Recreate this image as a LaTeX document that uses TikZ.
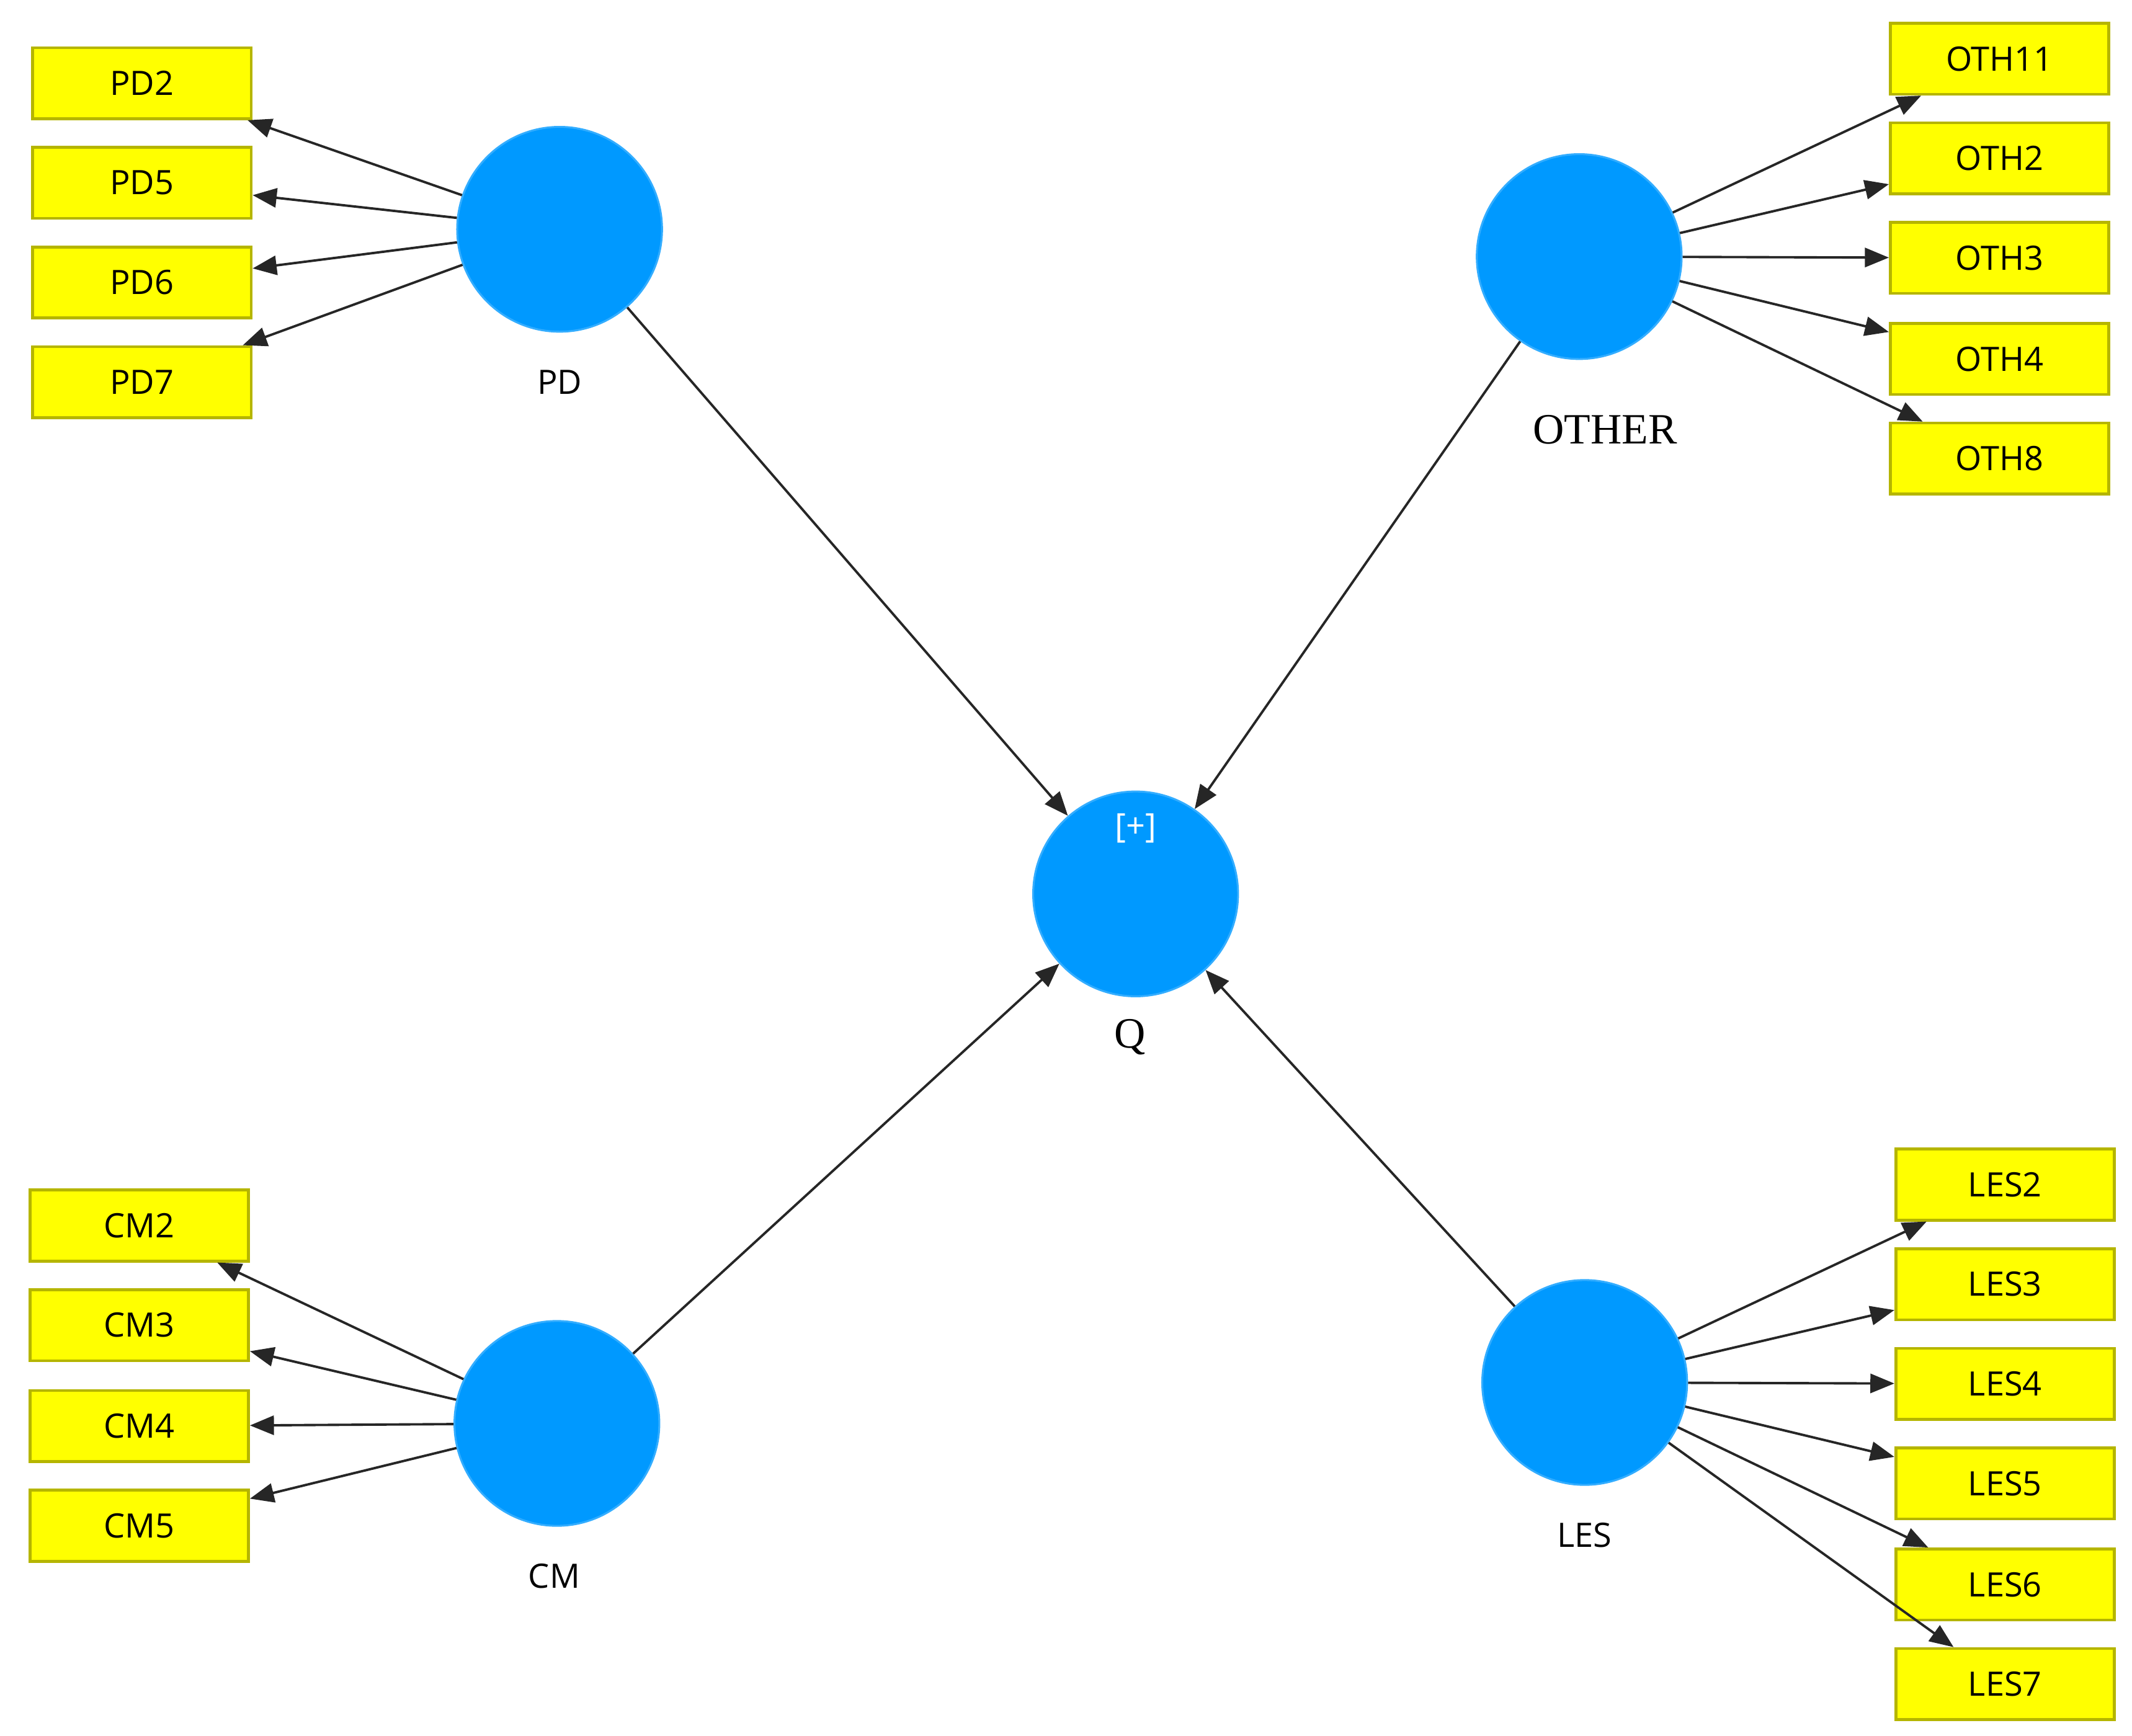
\documentclass[tikz,border=0pt]{standalone}
\usepackage{fontspec}
\setmainfont{Open Sans}
\newfontfamily\serifx{Liberation Serif}
\usetikzlibrary{arrows.meta}
\definecolor{lv}{HTML}{0099FF}
\definecolor{bx}{HTML}{FFFF00}
\definecolor{bxd}{HTML}{B5B500}
\begin{document}
\begin{tikzpicture}[x=0.01cm,y=-0.01cm,
 lat/.style={circle,fill=lv,draw=lv!80!white,minimum size=150\pgflinewidth,inner sep=0,minimum size=1.5cm},
 ind/.style={rectangle,fill=bx,draw=bxd,line width=0.6pt,minimum width=1.6cm,minimum height=0.52cm,inner sep=0,font=\fontsize{7}{8}\selectfont},
 lab/.style={font=\fontsize{7}{8}\selectfont},
 slab/.style={font=\serifx\fontsize{9}{10}\selectfont},
 ar/.style={-{Triangle[length=5pt,width=4pt]},line width=0.5pt,draw=black!85}]
\useasboundingbox (0,0) rectangle (1562,1272);
\node[lat] (PD) at (410,168) {};
\node[lat] (OTHER) at (1157,188) {};
\node[lat] (Q) at (832,655) {};
\node[lat] (CM) at (408,1043) {};
\node[lat] (LES) at (1161,1013) {};
\node[lab] (lPD) at (410,280) {PD};
\node[slab] (lOT) at (1176,315) {OTHER};
\node[slab] (lQ) at (828,760) {Q};
\node[lab] (lCM) at (406,1155) {CM};
\node[lab] (lLES) at (1161,1125) {LES};
\node[lab,text=white] (plus) at (832,607) {[+]};
\foreach \n/\y in {PD2/61,PD5/134,PD6/207,PD7/280}{
 \node[ind] (\n) at (104,\y) {\n}; \draw[ar] (PD) -- (\n);}
\foreach \n/\y in {OTH11/43,OTH2/116,OTH3/189,OTH4/263,OTH8/336}{
 \node[ind] (\n) at (1465,\y) {\n}; \draw[ar] (OTHER) -- (\n);}
\foreach \n/\y in {CM2/898,CM3/971,CM4/1045,CM5/1118}{
 \node[ind] (\n) at (102,\y) {\n}; \draw[ar] (CM) -- (\n);}
\foreach \n/\y in {LES2/868,LES3/941,LES4/1014,LES5/1087,LES6/1161,LES7/1234}{
 \node[ind] (\n) at (1469,\y) {\n}; \draw[ar] (LES) -- (\n);}
\draw[ar] (PD) -- (Q);
\draw[ar] (OTHER) -- (Q);
\draw[ar] (CM) -- (Q);
\draw[ar] (LES) -- (Q);
\end{tikzpicture}
\end{document}
